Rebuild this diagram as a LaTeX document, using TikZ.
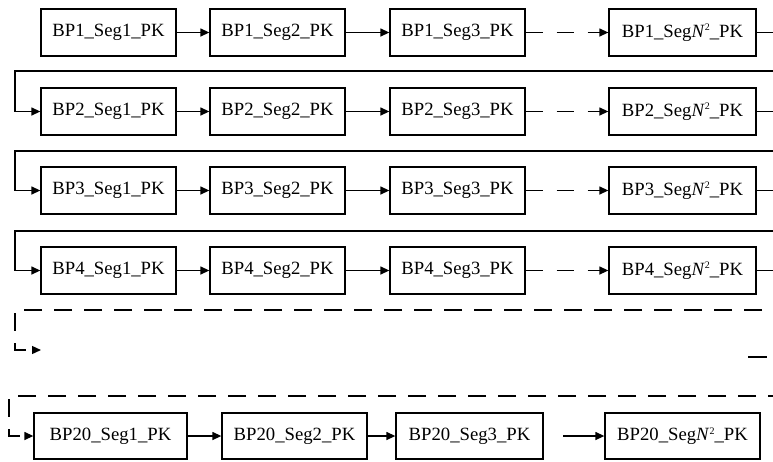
\documentclass[tikz,border=0pt]{standalone}
\usepackage{fontspec}
\setmainfont{Liberation Serif}
\usetikzlibrary{arrows.meta}
\newcommand{\segN}{Seg\textit{N}\raisebox{0.75ex}{\fontsize{10}{10}\selectfont 2}}
\begin{document}
\begin{tikzpicture}[x=1pt,y=-1pt,
  box/.style={draw, line width=1.3pt, minimum height=47pt, inner sep=0pt,
              font=\fontsize{18.7}{22}\selectfont},
  wire/.style={line width=1.3pt},
  link/.style={wire, -{Triangle[length=9pt,width=8pt]}},
  gapped/.style={dash pattern=on 17pt off 14pt},
  longdash/.style={dash pattern=on 18pt off 12pt}
]
\useasboundingbox (0,0) rectangle (773,461);
\clip (0,0) rectangle (773,461);

% the four fully drawn rows
\foreach \r/\y in {1/32.5,2/111.5,3/190.5,4/270.5} {
  \node[box, minimum width=135pt] (a\r) at (108.5,\y) {BP\r\_Seg1\_PK};
  \node[box, minimum width=135pt] (b\r) at (277.5,\y) {BP\r\_Seg2\_PK};
  \node[box, minimum width=135pt] (c\r) at (457.5,\y) {BP\r\_Seg3\_PK};
  \node[box, minimum width=147pt] (n\r) at (682.5,\y) {BP\r\_\segN\_PK};
  \draw[link] (a\r) -- (b\r);
  \draw[link] (b\r) -- (c\r);
  \draw[link, gapped] (c\r) -- (n\r);
}

% wrap-around from the end of one row to the start of the next
\foreach \r/\s/\ly in {1/2/71,2/3/151,3/4/231} {
  \draw[link] (n\r.east) -- ++(30,0) |- (15,\ly) |- (a\s.west);
}
\coordinate (out4) at (790,270.5);
\draw[wire] (n4.east) -- (out4);

% elided rows
\coordinate (d1s) at (773,310);
\coordinate (d1e) at (41,350);
\draw[link, longdash, dash phase=19pt] (d1s) -- (15,310) |- (d1e);
\coordinate (g1) at (748,357);
\coordinate (g2) at (767,357);
\draw[wire] (g1) -- (g2);

% last row
\node[box, minimum width=153pt, minimum height=46pt] (a20) at (110.5,436) {BP20\_Seg1\_PK};
\node[box, minimum width=145pt, minimum height=46pt] (b20) at (294.5,436) {BP20\_Seg2\_PK};
\node[box, minimum width=147pt, minimum height=46pt] (c20) at (469.5,436) {BP20\_Seg3\_PK};
\node[box, minimum width=155pt, minimum height=46pt] (n20) at (682.5,436) {BP20\_\segN\_PK};
\coordinate (d2s) at (773,396);
\draw[link, longdash, dash phase=13pt] (d2s) -- (9,396) |- (a20.west);
\draw[link] (a20) -- (b20);
\draw[link] (b20) -- (c20);
\coordinate (c20o) at (563,436);
\draw[link] (c20o) -- (n20);
\end{tikzpicture}
\end{document}
